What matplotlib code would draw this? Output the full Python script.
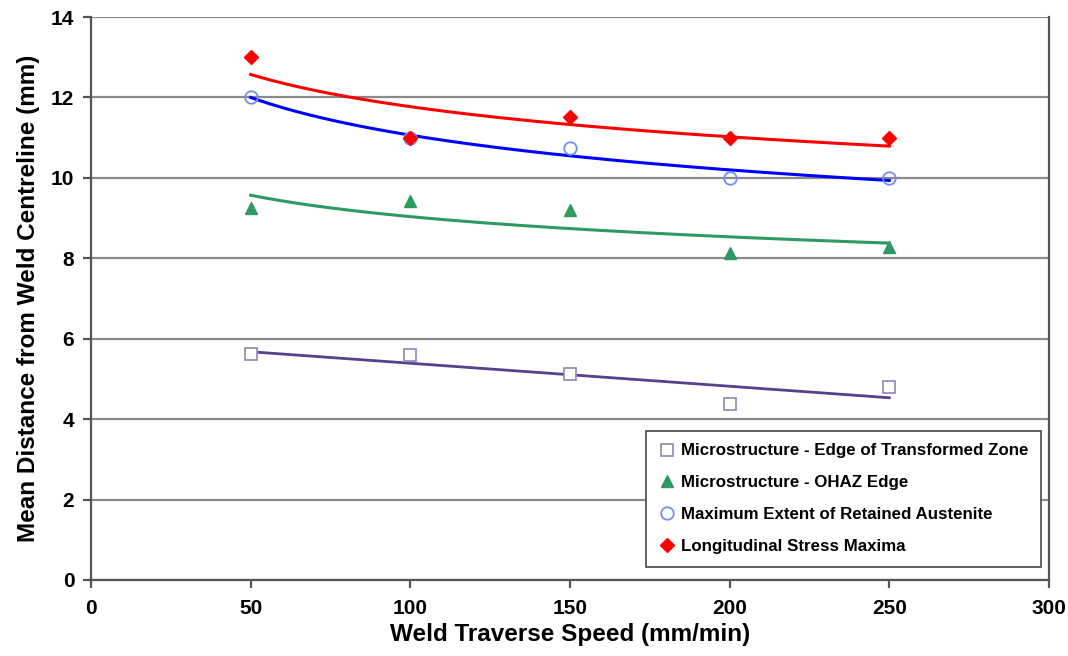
import matplotlib
matplotlib.use("Agg")
import matplotlib.pyplot as plt
import numpy as np

plt.rcParams['font.family'] = ['Liberation Sans', 'DejaVu Sans']

speed = np.array([50, 100, 150, 200, 250])
transformed_zone = np.array([5.62, 5.60, 5.12, 4.38, 4.80])
ohaz_edge = np.array([9.25, 9.43, 9.20, 8.13, 8.28])
retained_austenite = np.array([12.0, 11.0, 10.75, 10.0, 10.0])
stress_maxima = np.array([13.0, 11.0, 11.52, 11.0, 11.0])

labels = ['Microstructure - Edge of Transformed Zone',
          'Microstructure - OHAZ Edge',
          'Maximum Extent of Retained Austenite',
          'Longitudinal Stress Maxima']

xfit = np.linspace(50, 250, 200)


def power_fit(x, y):
    # y = a * x^b, fitted in log space
    b, loga = np.polyfit(np.log(x), np.log(y), 1)
    return np.exp(loga) * xfit ** b


def linear_fit(x, y):
    m, c = np.polyfit(x, y, 1)
    return m * xfit + c


fig = plt.figure(figsize=(10.68, 6.56), dpi=100)
ax = fig.add_axes([0.0852, 0.1159, 0.8970, 0.8581])

ax.set_xlim(0, 300)
ax.set_ylim(0, 14)
ax.set_yticks(np.arange(0, 15, 2))
ax.set_xticks(np.arange(0, 301, 50))
ax.yaxis.grid(True, color='#8a8a8a', linewidth=1.6)
ax.set_axisbelow(True)
for s in ax.spines.values():
    s.set_color('#555555')
    s.set_linewidth(1.6)
ax.spines['top'].set_visible(False)

# trend lines
ax.plot(xfit, linear_fit(speed, transformed_zone), color='#5a3f8c', lw=2, zorder=2)
ax.plot(xfit, power_fit(speed, ohaz_edge), color='#2e9a62', lw=2.2, zorder=2)
ax.plot(xfit, power_fit(speed, retained_austenite), color='#0000ff', lw=2.2, zorder=2)
ax.plot(xfit, power_fit(speed, stress_maxima), color='#ff0000', lw=2.2, zorder=2)

# measured points
ax.plot(speed, transformed_zone, 's', ms=9, mfc='white', mec='#9a8cc0', mew=1.3,
        ls='none', label=labels[0], zorder=3)
ax.plot(speed, ohaz_edge, '^', ms=9, color='#2e9a62', ls='none',
        label=labels[1], zorder=3)
ax.plot(speed, retained_austenite, 'o', ms=9, mfc='none', mec='#6f8ff0', mew=1.3,
        ls='none', label=labels[2], zorder=3)
ax.plot(speed, stress_maxima, 'D', ms=7, color='#ff0000', ls='none',
        label=labels[3], zorder=4)

ax.tick_params(axis='both', labelsize=15, width=1.6, length=6, color='#555555')
ax.tick_params(axis='x', pad=8)
ax.tick_params(axis='y', pad=6)
for t in ax.get_xticklabels() + ax.get_yticklabels():
    t.set_fontweight('bold')

ax.set_xlabel('Weld Traverse Speed (mm/min)', fontsize=17.5, fontweight='bold', labelpad=3)
ax.set_ylabel('Mean Distance from Weld Centreline (mm)', fontsize=17.5,
              fontweight='bold', labelpad=8)

leg = ax.legend(loc='lower right', bbox_to_anchor=(0.9916, 0.023), borderaxespad=0,
                prop={'weight': 'bold', 'size': 12.2},
                handletextpad=0.3, handlelength=1.0, labelspacing=1.0,
                fancybox=False, edgecolor='#555555', framealpha=1, borderpad=0.75)
leg.get_frame().set_linewidth(1.3)

fig.savefig('out.png', dpi=100)
